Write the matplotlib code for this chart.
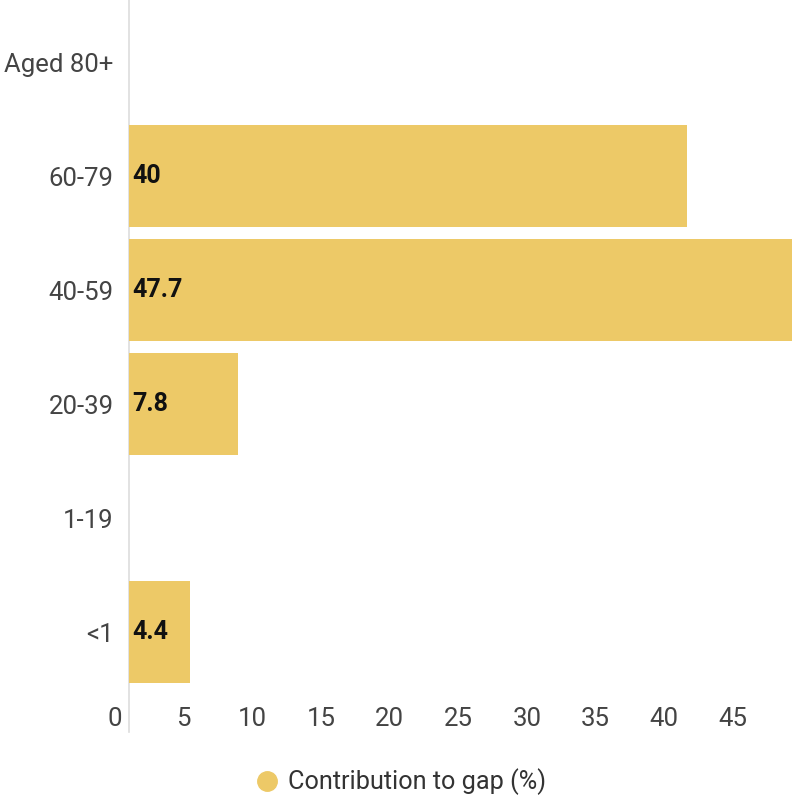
import numpy as np
import matplotlib.pyplot as plt
from matplotlib.lines import Line2D
from matplotlib.transforms import ScaledTranslation

plt.rcParams['font.family'] = ['Roboto', 'DejaVu Sans']

# 数据
age_groups = ['<1', '1-19', '20-39', '40-59', '60-79', 'Aged 80+']
contribution = [4.4, np.nan, 7.8, 47.7, 40, np.nan]
x_ticks = [0, 5, 10, 15, 20, 25, 30, 35, 40, 45]

bar_color = '#EDC967'
W, H = 792, 801
fs = 18.5

fig = plt.figure(figsize=(W / 100, H / 100), dpi=100)
# axes: 左边 129px, 右边到图边, 顶部 0, 底部 700px
ax = fig.add_axes([129 / W, 1 - 700 / H, 1 - 129 / W, 700 / H])

y = np.arange(len(age_groups))
vals = np.nan_to_num(np.array(contribution, dtype=float))
ax.barh(y, vals, height=0.895, color=bar_color, zorder=2)

# 数值标签
for yi, v in zip(y, contribution):
    if not np.isnan(v):
        ax.text(0.25, yi, f'{v:g}', va='center', ha='left', fontsize=fs - 0.5,
                fontweight='bold', color='#111111', zorder=3)

ax.set_xlim(0, 47.53)
ax.set_ylim(-0.596, 5.544)

ax.set_yticks(y)
ax.set_yticklabels(age_groups, fontsize=fs, color='#444444')
ax.set_xticks(x_ticks)
ax.set_xticklabels([str(t) for t in x_ticks], fontsize=fs, color='#444444')
ax.tick_params(axis='both', length=0)
ax.tick_params(axis='y', pad=11)
ax.tick_params(axis='x', pad=5)

# 刻度标签向左偏移 (原图标签与柱子比例略有不同)
for t, lbl in zip(x_ticks, ax.get_xticklabels()):
    dx = -14 - 0.22 * t
    lbl.set_transform(lbl.get_transform() + ScaledTranslation(dx / 100, 0, fig.dpi_scale_trans))

for s in ['top', 'right', 'bottom', 'left']:
    ax.spines[s].set_visible(False)
# 左侧竖线, 延伸到刻度标签下方
ax.plot([0, 0], [-32 / 700, 1], transform=ax.transAxes, color='#DDDDDD',
        linewidth=1.2, clip_on=False, zorder=1)

handle = Line2D([], [], marker='o', linestyle='', markersize=14,
                markerfacecolor=bar_color, markeredgecolor=bar_color)
fig.legend([handle], ['Contribution to gap (%)'], loc='center',
           bbox_to_anchor=(394 / W, 1 - 782 / H), frameon=False,
           fontsize=fs - 0.3, labelcolor='#333333', handletextpad=-0.2)

fig.savefig('out.png', dpi=100)
